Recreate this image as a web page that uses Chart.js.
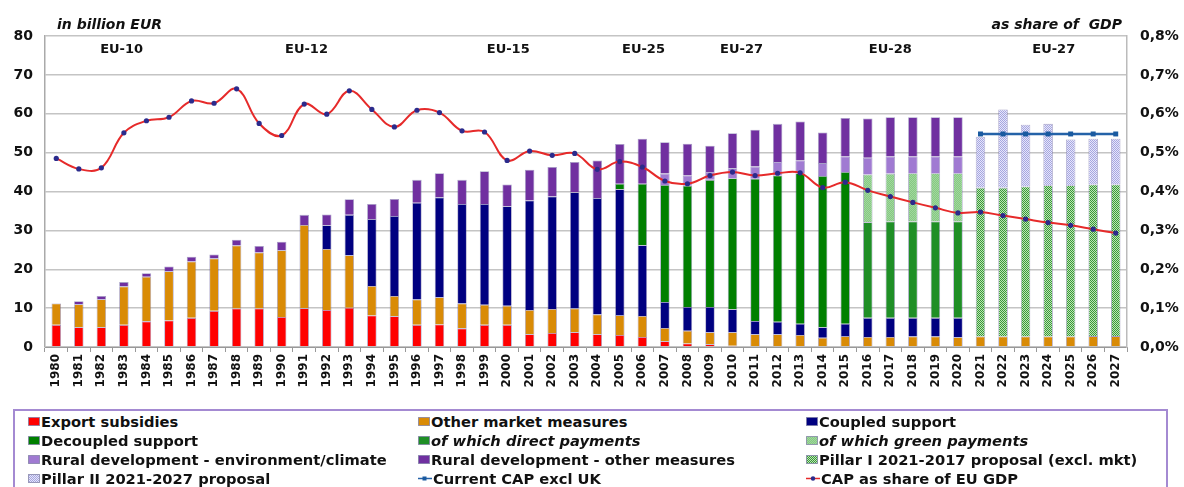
<!DOCTYPE html>
<html>
<head>
<meta charset="utf-8">
<script src="https://cdn.jsdelivr.net/npm/chart.js@4.4.1/dist/chart.umd.min.js"></script>
<style>
  body { margin: 0; background: #fff; font-family: 'DejaVu Sans', Verdana, sans-serif; }
  #wrap { position: relative; width: 1184px; height: 487px; overflow: hidden; }
  #chartBox { position: absolute; left: 0; top: 0; width: 1184px; height: 406px; }
  #legend {
    position: absolute; left: 13px; top: 409px; width: 1155px; height: 90px;
    border: 2px solid #a48ad2; box-sizing: border-box;
    display: grid; grid-template-columns: 390px 388px auto; grid-auto-rows: 19px;
    padding: 1px 0 0 13px; font-weight: bold; font-size: 14.7px; color: #111;
  }
  .item { display: flex; align-items: center; white-space: nowrap; }
  .item canvas { margin-right: 1px; }
  .it { font-style: italic; }
</style>
</head>
<body>
<div id="wrap">
  <div id="chartBox"><canvas id="chart" width="1184" height="406"></canvas></div>
  <div id="legend"></div>
</div>
<script>
const years = ['1980','1981','1982','1983','1984','1985','1986','1987','1988','1989',
  '1990','1991','1992','1993','1994','1995','1996','1997','1998','1999',
  '2000','2001','2002','2003','2004','2005','2006','2007','2008','2009',
  '2010','2011','2012','2013','2014','2015','2016','2017','2018','2019',
  '2020','2021','2022','2023','2024','2025','2026','2027'];

// billion EUR, 1980..2027
const exportSubsidies = [5.7,5.1,5.1,5.7,6.6,6.8,7.5,9.3,9.9,9.9,
  7.7,10.0,9.5,10.1,8.1,7.9,5.7,5.8,4.8,5.7,
  5.7,3.3,3.6,3.8,3.3,3.1,2.6,1.5,0.9,0.7,
  0.3,0,0,0,0,0,0,0,0,0,
  0,0,0,0,0,0,0,0];
const otherMarket = [5.5,5.9,7.2,9.9,11.5,12.7,14.5,13.5,16.2,14.4,
  17.2,21.4,15.7,13.5,7.6,5.2,6.5,7.0,6.4,5.2,
  4.9,6.2,6.2,6.1,5.1,5.1,5.4,3.4,3.3,3.1,
  3.5,3.3,3.3,3.1,2.4,2.8,2.6,2.6,2.7,2.7,
  2.5,2.7,2.7,2.7,2.7,2.7,2.8,2.8];
const coupledSupport = [0,0,0,0,0,0,0,0,0,0,
  0,0,6.1,10.4,17.2,20.6,24.9,25.7,25.6,25.9,
  25.6,28.2,28.9,29.9,29.9,32.4,18.2,6.7,6.1,6.5,
  5.9,3.4,3.2,2.9,2.7,3.2,4.9,4.9,4.8,4.8,
  5.0,0,0,0,0,0,0,0];
const decoupledSupport = [0,0,0,0,0,0,0,0,0,0,
  0,0,0,0,0,0,0,0,0,0,
  0,0,0,0,0,1.4,15.8,30.1,31.2,32.7,
  33.7,36.6,37.6,38.7,38.9,39.0,0,0,0,0,
  0,0,0,0,0,0,0,0];
const directPayments = [0,0,0,0,0,0,0,0,0,0,
  0,0,0,0,0,0,0,0,0,0,
  0,0,0,0,0,0,0,0,0,0,
  0,0,0,0,0,0,24.6,24.8,24.8,24.8,
  24.8,0,0,0,0,0,0,0];
const greenPayments = [0,0,0,0,0,0,0,0,0,0,
  0,0,0,0,0,0,0,0,0,0,
  0,0,0,0,0,0,0,0,0,0,
  0,0,0,0,0,0,12.3,12.3,12.4,12.4,
  12.4,0,0,0,0,0,0,0];
const pillarIProposal = [0,0,0,0,0,0,0,0,0,0,
  0,0,0,0,0,0,0,0,0,0,
  0,0,0,0,0,0,0,0,0,0,
  0,0,0,0,0,0,0,0,0,0,
  0,38.3,38.3,38.6,38.9,38.9,39.0,39.0];
const ruralEnv = [0,0,0,0,0,0,0,0,0,0,
  0,0,0,0,0,0,0,0,0,0,
  0,0,0,0,0,0,0,2.9,2.6,2.0,
  2.6,3.1,3.5,3.3,3.3,4.0,4.3,4.4,4.3,4.3,
  4.3,0,0,0,0,0,0,0];
const ruralOther = [0,0.8,0.8,1.1,0.9,1.2,1.2,1.0,1.5,1.7,
  2.2,2.6,2.8,4.0,3.9,4.4,5.9,6.2,6.2,8.4,
  5.6,7.9,7.6,7.8,9.7,10.2,11.6,8.1,8.2,6.8,
  9.0,9.5,9.8,10.0,7.9,9.9,10.1,10.1,10.1,10.1,
  10.1,0,0,0,0,0,0,0];
const pillarIIProposal = [0,0,0,0,0,0,0,0,0,0,
  0,0,0,0,0,0,0,0,0,0,
  0,0,0,0,0,0,0,0,0,0,
  0,0,0,0,0,0,0,0,0,0,
  0,13.1,20.1,15.9,15.8,11.8,11.8,11.8];
const currentCapExclUK = [null,null,null,null,null,null,null,null,null,null,
  null,null,null,null,null,null,null,null,null,null,
  null,null,null,null,null,null,null,null,null,null,
  null,null,null,null,null,null,null,null,null,null,
  null,54.8,54.8,54.8,54.8,54.8,54.8,54.8];
// % of EU GDP
const gdpShare = [0.485,0.458,0.461,0.551,0.582,0.591,0.633,0.627,0.664,0.575,
  0.544,0.625,0.599,0.659,0.611,0.566,0.609,0.603,0.556,0.553,
  0.480,0.504,0.493,0.498,0.457,0.477,0.463,0.427,0.420,0.441,
  0.450,0.441,0.447,0.448,0.410,0.424,0.403,0.387,0.372,0.358,
  0.345,0.347,0.338,0.329,0.320,0.313,0.303,0.293];

const eraLabels = ['EU-10','EU-12','EU-15','EU-25','EU-27','EU-28','EU-27'];
const eraCenters = [1982.9, 1991.1, 2000.05, 2006.05, 2010.4, 2017.0, 2024.25];
const leftTitle = 'in billion EUR';
const rightTitle = 'as share of  GDP';

const FONT = "'DejaVu Sans', Verdana, sans-serif";

// small checker patterns for the hatched series
function makePattern(bg, fg, cell) {
  const c = document.createElement('canvas');
  c.width = cell * 2; c.height = cell * 2;
  const g = c.getContext('2d');
  g.fillStyle = bg; g.fillRect(0, 0, c.width, c.height);
  g.fillStyle = fg;
  g.fillRect(0, 0, cell, cell);
  g.fillRect(cell, cell, cell, cell);
  return g.createPattern(c, 'repeat');
}

const pillarIPattern = makePattern('#bce6b4', '#3a983a', 1);
const greenPayPattern = makePattern('#86c884', '#a0d89c', 1);
const pillarIIPattern = makePattern('#e6e6fa', '#a6a6e0', 1);

const barBorder = 'rgba(90,80,150,0.55)';
function bar(label, data, color, extra) {
  return Object.assign({
    type: 'bar', label: label, data: data, backgroundColor: color,
    borderColor: barBorder, borderWidth: 0.8, order: 1, stack: 'cap',
    barPercentage: 0.42, categoryPercentage: 1, yAxisID: 'y'
  }, extra || {});
}

const datasets = [
  bar('Export subsidies', exportSubsidies, '#ff0000'),
  bar('Other market measures', otherMarket, '#d98b06'),
  bar('Coupled support', coupledSupport, '#000080'),
  bar('Decoupled support', decoupledSupport, '#008000'),
  bar('of which direct payments', directPayments, '#1f8f26', { italicLegend: true }),
  bar('of which green payments', greenPayments, greenPayPattern, { italicLegend: true }),
  bar('Rural development - environment/climate', ruralEnv, '#a07ad2'),
  bar('Rural development - other measures', ruralOther, '#7030a0'),
  bar('Pillar I 2021-2017 proposal (excl. mkt)', pillarIProposal, pillarIPattern),
  bar('Pillar II 2021-2027 proposal', pillarIIProposal, pillarIIPattern),
  {
    type: 'line', label: 'Current CAP excl UK', data: currentCapExclUK, yAxisID: 'y',
    stack: 'line1', order: 0, borderColor: '#2462a8', backgroundColor: '#1a5aa0',
    borderWidth: 2.5, pointStyle: 'rect', pointRadius: 3.5, pointBorderWidth: 0, tension: 0
  },
  {
    type: 'line', label: 'CAP as share of EU GDP', data: gdpShare, yAxisID: 'y2',
    stack: 'line2', order: 0, borderColor: '#e62a2a', backgroundColor: '#2b2b8c',
    borderWidth: 2, pointRadius: 2.6, pointBorderWidth: 0, tension: 0.4
  }
];

const legendLabelsOrder = ['Export subsidies','Other market measures','Coupled support',
  'Decoupled support','of which direct payments','of which green payments',
  'Rural development - environment/climate','Rural development - other measures',
  'Pillar I 2021-2017 proposal (excl. mkt)','Pillar II 2021-2027 proposal',
  'Current CAP excl UK','CAP as share of EU GDP'];

const annotations = {
  id: 'annotations',
  afterDraw(chart) {
    const { ctx, chartArea, scales: { x, y } } = chart;
    ctx.save();
    ctx.fillStyle = '#111';
    ctx.textBaseline = 'middle';
    ctx.font = 'italic bold 14px ' + FONT;
    ctx.textAlign = 'left';
    ctx.fillText(leftTitle, chartArea.left + 12, chartArea.top - 11);
    ctx.textAlign = 'right';
    ctx.fillText(rightTitle, chartArea.right - 5, chartArea.top - 11);
    ctx.font = 'bold 13px ' + FONT;
    ctx.textAlign = 'center';
    eraLabels.forEach((t, i) => {
      ctx.fillText(t, x.getPixelForValue(eraCenters[i] - 1980), y.getPixelForValue(76.4));
    });
    ctx.restore();
  }
};

const chart = new Chart(document.getElementById('chart'), {
  data: { labels: years, datasets: datasets },
  options: {
    responsive: false,
    animation: false,
    layout: { padding: { top: 36, left: 0, right: 0, bottom: 0 } },
    plugins: { legend: { display: false }, tooltip: { enabled: false } },
    scales: {
      x: {
        stacked: true,
        offset: true,
        grid: { display: true, drawOnChartArea: false, offset: true, tickLength: 5, color: '#999' },
        border: { color: '#999', width: 1 },
        ticks: {
          autoSkip: false, maxRotation: 90, minRotation: 90, padding: 2,
          color: '#111', font: { family: FONT, size: 12, weight: 'bold' }
        },
        afterFit(scale) { scale.height = 59; }
      },
      y: {
        stacked: true, min: 0, max: 80,
        grid: { color: '#c4c4c4', lineWidth: 1.5, drawTicks: false },
        border: { color: '#aaa', width: 1.5 },
        ticks: { stepSize: 10, padding: 12, color: '#111', font: { family: FONT, size: 14, weight: 'bold' } },
        afterFit(scale) { scale.width = 45; }
      },
      y2: {
        position: 'right', min: 0, max: 0.8,
        grid: { drawOnChartArea: false, drawTicks: false },
        border: { color: '#bbb', width: 1.5 },
        ticks: {
          stepSize: 0.1, padding: 13, color: '#111',
          font: { family: FONT, size: 14, weight: 'bold' },
          callback: v => v.toFixed(1).replace('.', ',') + '%'
        },
        afterFit(scale) { scale.width = 57; }
      }
    }
  },
  plugins: [annotations]
});

// HTML legend built from the chart datasets
const legendEl = document.getElementById('legend');
legendLabelsOrder.forEach(name => {
  const ds = chart.data.datasets.find(d => d.label === name);
  const item = document.createElement('div');
  item.className = 'item';
  const sw = document.createElement('canvas');
  const g = sw.getContext('2d');
  if (ds.type === 'bar') {
    sw.width = 12; sw.height = 9;
    g.fillStyle = ds.backgroundColor;
    g.fillRect(0.5, 0.5, 11, 8);
    g.strokeStyle = 'rgba(120,120,160,0.7)';
    g.lineWidth = 1;
    g.strokeRect(0.5, 0.5, 11, 8);
  } else {
    sw.width = 14; sw.height = 9;
    g.strokeStyle = ds.borderColor;
    g.lineWidth = 1.5;
    g.beginPath(); g.moveTo(0, 4.5); g.lineTo(14, 4.5); g.stroke();
    g.fillStyle = ds.backgroundColor;
    if (ds.pointStyle === 'rect') g.fillRect(4.5, 2.5, 4, 4);
    else { g.beginPath(); g.arc(7, 4.5, 2.2, 0, Math.PI * 2); g.fill(); }
  }
  const txt = document.createElement('span');
  txt.textContent = ds.label;
  if (ds.italicLegend) txt.className = 'it';
  item.appendChild(sw);
  item.appendChild(txt);
  legendEl.appendChild(item);
});
</script>
</body>
</html>
